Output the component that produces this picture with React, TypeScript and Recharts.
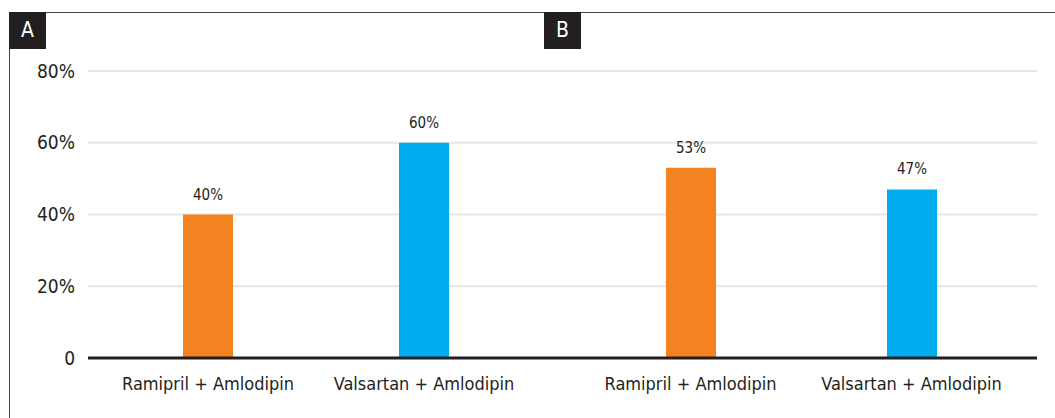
import { Bar, BarChart, CartesianGrid, Cell, LabelList, XAxis, YAxis } from "recharts";

// Panel A / B share the same y scale; B carries no axis of its own
const categories = ["Ramipril + Amlodipin", "Valsartan + Amlodipin"];
const valuesA = [40, 60];
const valuesB = [53, 47];
const barColors = ["#F58220", "#00AEEF"];
const yTicks = [0, 20, 40, 60, 80];

const FONT = '"Liberation Sans Narrow", "DejaVu Sans Condensed", "Roboto Condensed", sans-serif';

const rowsA = categories.map((name, i) => ({ name, value: valuesA[i] }));
const rowsB = categories.map((name, i) => ({ name, value: valuesB[i] }));

const pct = (v: number) => (v === 0 ? "0" : `${v}%`);

function Panel({
  rows,
  width,
  showY,
  margin,
  padding,
}: {
  rows: { name: string; value: number }[];
  width: number;
  showY: boolean;
  margin: { top: number; right: number; left: number; bottom: number };
  padding: { left: number; right: number };
}) {
  return (
    <BarChart width={width} height={418} data={rows} margin={margin}>
      <CartesianGrid vertical={false} stroke="#e6e6e6" strokeWidth={2} />
      <XAxis
        dataKey="name"
        padding={padding}
        tickLine={false}
        axisLine={{ stroke: "#231f20", strokeWidth: 3 }}
        tick={{ fontSize: 18, fill: "#231f20", fontFamily: FONT }}
        tickMargin={13}
        height={60}
        interval={0}
      />
      <YAxis
        hide={!showY}
        domain={[0, 80]}
        ticks={yTicks}
        tickFormatter={pct}
        tickLine={false}
        axisLine={false}
        tick={{ fontSize: 19, fill: "#231f20", fontFamily: FONT }}
        tickMargin={7}
        width={88}
      />
      <Bar dataKey="value" barSize={50} isAnimationActive={false}>
        {rows.map((r, i) => (
          <Cell key={r.name} fill={barColors[i]} />
        ))}
        <LabelList
          dataKey="value"
          position="top"
          offset={15}
          formatter={(v: number) => `${v}%`}
          style={{ fontSize: 15, fill: "#231f20", fontFamily: FONT }}
        />
      </Bar>
    </BarChart>
  );
}

const tag: React.CSSProperties = {
  position: "absolute",
  top: 12,
  width: 37,
  height: 37,
  background: "#231f20",
  color: "#fff",
  fontFamily: FONT,
  fontSize: 21,
  lineHeight: "37px",
  textAlign: "center",
};

export default function App() {
  return (
    <div style={{ position: "absolute", left: 0, top: 0, width: 1055, height: 418, background: "#fff", overflow: "hidden" }}>
      <div style={{ position: "absolute", left: 9, top: 12, right: 0, bottom: 0, borderTop: "1px solid #444", borderLeft: "1.5px solid #444" }} />
      <div style={{ position: "absolute", left: 0, top: 0 }}>
        <Panel
          rows={rowsA}
          width={544}
          showY
          margin={{ top: 71, right: 0, left: 0, bottom: 0 }}
          padding={{ left: 12, right: 12 }}
        />
      </div>
      <div style={{ position: "absolute", left: 544, top: 0 }}>
        <Panel
          rows={rowsB}
          width={511}
          showY={false}
          margin={{ top: 71, right: 18, left: 0, bottom: 0 }}
          padding={{ left: 36, right: 15 }}
        />
      </div>
      <div style={{ ...tag, left: 9 }}>A</div>
      <div style={{ ...tag, left: 544 }}>B</div>
    </div>
  );
}
